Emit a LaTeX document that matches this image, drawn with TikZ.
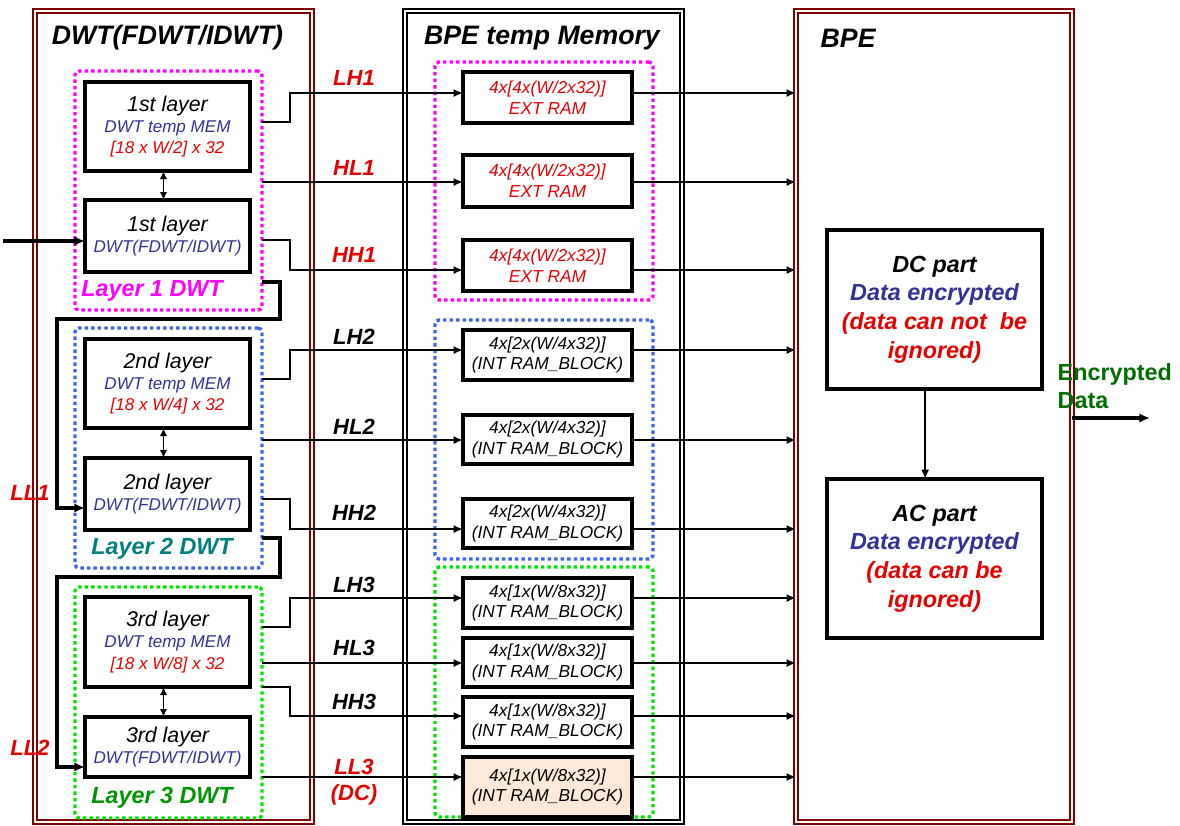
\documentclass[tikz,border=0pt]{standalone}
\usepackage{fontspec}
\setmainfont{Liberation Sans}
\usetikzlibrary{arrows.meta}
\definecolor{dred}{RGB}{128,0,0}
\definecolor{tred}{RGB}{230,0,0}
\definecolor{tblue}{RGB}{50,50,150}
\definecolor{dmag}{RGB}{255,0,255}
\definecolor{dblue}{RGB}{60,100,240}
\definecolor{dgreen}{RGB}{0,230,0}
\definecolor{tteal}{RGB}{0,128,128}
\definecolor{tgreen}{RGB}{0,150,0}
\definecolor{egreen}{RGB}{0,110,0}
\definecolor{peach}{RGB}{253,233,217}
\newcommand\ftitle{\fontsize{20}{24}\selectfont\bfseries\itshape}
\newcommand\fbig{\fontsize{16}{16}\selectfont}
\newcommand\flayer{\fontsize{17.5}{21}\selectfont\bfseries\itshape}
\newcommand\flab{\fontsize{16.5}{20}\selectfont\bfseries\itshape}
\begin{document}
\begin{tikzpicture}[x=0.75pt,y=-0.75pt,
  outerbox/.style={draw=#1, double=white, double distance=1.6pt, line width=1.1pt, inner sep=0pt, outer sep=0pt},
  dotbox/.style={draw=#1, line width=2.6pt, dash pattern=on 2.6pt off 2.3pt, rounded corners=3pt, inner sep=0pt, outer sep=0pt},
  dwtbox/.style={draw, line width=3pt, fill=white, inner sep=0pt, outer sep=0pt, align=center, minimum width=123.75pt, font=\fontsize{12.8}{16}\selectfont\itshape},
  membox/.style={draw, line width=2.8pt, fill=white, inner sep=0pt, outer sep=0pt, align=center, minimum width=126.75pt, font=\fontsize{13}{15.5}\selectfont\itshape},
  partbox/.style={draw, line width=2.8pt, fill=white, inner sep=0pt, outer sep=0pt, align=center, minimum width=161.25pt, minimum height=119.25pt, font=\fontsize{17.5}{21.5}\selectfont\bfseries\itshape},
  lab/.style={font=\flab},
  conn/.style={line width=1.3pt, -{Latex[length=7pt,width=6pt]}},
  bidir/.style={line width=1.3pt, {Latex[length=6pt,width=5.5pt]}-{Latex[length=6pt,width=5.5pt]}},
  thickarr/.style={line width=2.6pt, -{Latex[length=8pt,width=7pt]}}
]
\useasboundingbox (0,0) rectangle (1180,825);

% outer boxes
\node[outerbox=dred, minimum width=207.75pt, minimum height=608.25pt] (DWT) at (173.5,416.5) {};
\node[outerbox=black, minimum width=207.75pt, minimum height=608.25pt] (MEM) at (543.5,416.5) {};
\node[outerbox=dred, minimum width=207pt, minimum height=608.25pt] (BPE) at (934,416.5) {};

\node[font=\ftitle] (t1) at (167.5,38) {DWT(FDWT/IDWT)};
\node[font=\ftitle] (t2) at (542,38) {BPE temp Memory};
\node[font=\ftitle, anchor=west] (t3) at (816,38) {BPE};

% dotted layer boxes
\node[dotbox=dmag, minimum width=140.25pt, minimum height=179.25pt] (L1) at (168.5,190.5) {};
\node[dotbox=dblue, minimum width=140.25pt, minimum height=180pt] (L2) at (168.5,448) {};
\node[dotbox=dgreen, minimum width=140.25pt, minimum height=173.25pt] (L3) at (168.5,702.5) {};

\node[dotbox=dmag, minimum width=163.5pt, minimum height=178.5pt] (MM1) at (544,181) {};
\node[dotbox=dblue, minimum width=163.5pt, minimum height=179.25pt] (MM2) at (544,439.5) {};
\node[dotbox=dgreen, minimum width=163.5pt, minimum height=187.5pt] (MM3) at (544,692) {};

\node[font=\flayer, text=dmag] (lt1) at (152,291) {Layer 1 DWT};
\node[font=\flayer, text=tteal] (lt2) at (162,549) {Layer 2 DWT};
\node[font=\flayer, text=tgreen] (lt3) at (162,798) {Layer 3 DWT};

% DWT boxes
\node[dwtbox, minimum height=66.75pt] (M1) at (167.5,126.5) {{\fbig 1st layer}\\{\color{tblue}DWT temp MEM}\\{\color{tred}[18 x W/2] x 32}};
\node[dwtbox, minimum height=54pt] (D1) at (167.5,236) {{\fbig 1st layer}\\{\color{tblue}DWT(FDWT/IDWT)}};
\node[dwtbox, minimum height=66.75pt] (M2) at (167.5,383.5) {{\fbig 2nd layer}\\{\color{tblue}DWT temp MEM}\\{\color{tred}[18 x W/4] x 32}};
\node[dwtbox, minimum height=54pt] (D2) at (167.5,494) {{\fbig 2nd layer}\\{\color{tblue}DWT(FDWT/IDWT)}};
\node[dwtbox, minimum height=67.5pt] (M3) at (167.5,642) {{\fbig 3rd layer}\\{\color{tblue}DWT temp MEM}\\{\color{tred}[18 x W/8] x 32}};
\node[dwtbox, minimum height=45pt] (D3) at (167.5,747) {{\fbig 3rd layer}\\{\color{tblue}DWT(FDWT/IDWT)}};

\draw[bidir] ([xshift=-3pt]M1.south) -- ([xshift=-3pt]D1.north);
\draw[bidir] ([xshift=-3pt]M2.south) -- ([xshift=-3pt]D2.north);
\draw[bidir] ([xshift=-3pt]M3.south) -- ([xshift=-3pt]D3.north);

% memory boxes
\node[membox, text=tred, minimum height=38.25pt] (R1) at (547.5,97.5) {4x[4x(W/2x32)]\\EXT RAM};
\node[membox, text=tred, minimum height=39pt] (R2) at (547.5,181) {4x[4x(W/2x32)]\\EXT RAM};
\node[membox, text=tred, minimum height=38.25pt] (R3) at (547.5,265.5) {4x[4x(W/2x32)]\\EXT RAM};
\node[membox, minimum height=37.5pt] (R4) at (547.5,355) {4x[2x(W/4x32)]\\(INT RAM\_BLOCK)};
\node[membox, minimum height=36.75pt] (R5) at (547.5,439.5) {4x[2x(W/4x32)]\\(INT RAM\_BLOCK)};
\node[membox, minimum height=36.75pt] (R6) at (547.5,523.5) {4x[2x(W/4x32)]\\(INT RAM\_BLOCK)};
\node[membox, minimum height=37.5pt] (R7) at (547.5,603) {4x[1x(W/8x32)]\\(INT RAM\_BLOCK)};
\node[membox, minimum height=36.75pt] (R8) at (547.5,662.5) {4x[1x(W/8x32)]\\(INT RAM\_BLOCK)};
\node[membox, minimum height=37.5pt] (R9) at (547.5,722) {4x[1x(W/8x32)]\\(INT RAM\_BLOCK)};
\node[membox, fill=peach, minimum height=45pt] (R10) at (547.5,787) {4x[1x(W/8x32)]\\(INT RAM\_BLOCK)};

% y levels
\coordinate (a1) at (0,93);  \coordinate (a2) at (0,182); \coordinate (a3) at (0,270);
\coordinate (a4) at (0,350); \coordinate (a5) at (0,440); \coordinate (a6) at (0,529);
\coordinate (a7) at (0,598); \coordinate (a8) at (0,663); \coordinate (a9) at (0,716);
\coordinate (a10) at (0,777);
\coordinate (s1) at (0,122); \coordinate (s3) at (0,240);
\coordinate (s4) at (0,379); \coordinate (s6) at (0,499);
\coordinate (s7) at (0,627); \coordinate (s9) at (0,687);

% connectors DWT -> memory
\draw[conn] (L1.east |- s1) -- ++(28,0) |- (R1.west |- a1);
\draw[conn] (L1.east |- a2) -- (R2.west |- a2);
\draw[conn] (L1.east |- s3) -- ++(28,0) |- (R3.west |- a3);
\draw[conn] (L2.east |- s4) -- ++(28,0) |- (R4.west |- a4);
\draw[conn] (L2.east |- a5) -- (R5.west |- a5);
\draw[conn] (L2.east |- s6) -- ++(28,0) |- (R6.west |- a6);
\draw[conn] (L3.east |- s7) -- ++(28,0) |- (R7.west |- a7);
\draw[conn] (L3.east |- a8) -- (R8.west |- a8);
\draw[conn] (L3.east |- s9) -- ++(28,0) |- (R9.west |- a9);
\draw[conn] (L3.east |- a10) -- (R10.west |- a10);

% memory -> BPE
\foreach \i in {1,...,10}{
  \draw[conn] (R\i.east |- a\i) -- (BPE.west |- a\i);
}

% labels
\node[lab, text=tred] (lLH1) at (354,78) {LH1};
\node[lab, text=tred] (lHL1) at (354,168) {HL1};
\node[lab, text=tred] (lHH1) at (354,255) {HH1};
\node[lab] (lLH2) at (354,337) {LH2};
\node[lab] (lHL2) at (354,427) {HL2};
\node[lab] (lHH2) at (354,513) {HH2};
\node[lab] (lLH3) at (354,585) {LH3};
\node[lab] (lHL3) at (354,648) {HL3};
\node[lab] (lHH3) at (354,702) {HH3};
\node[lab, text=tred] (lLL3) at (354,767) {LL3};
\node[lab, text=tred] (lDC) at (354,795) {(DC)};
\node[lab, text=tred] (lLL1) at (30,493) {LL1};
\node[lab, text=tred] (lLL2) at (30,748) {LL2};

% input and LL feedback
\coordinate (inst) at (3,241);
\draw[thickarr] (inst) -- (D1.west |- inst);
\coordinate (ll1a) at (0,282); \coordinate (ll1b) at (57,319); \coordinate (ll1c) at (0,508);
\draw[thickarr] (L1.east |- ll1a) -- ++(18,0) |- (ll1b) |- (D2.west |- ll1c);
\coordinate (ll2a) at (0,538); \coordinate (ll2b) at (57,577); \coordinate (ll2c) at (0,767);
\draw[thickarr] (L2.east |- ll2a) -- ++(18,0) |- (ll2b) |- (D3.west |- ll2c);

% BPE parts
\node[partbox] (DC) at (934.5,309.5) {DC part\\{\color{tblue}Data encrypted}\\{\color{tred}(data can not \ be}\\{\color{tred}ignored)}};
\node[partbox] (AC) at (934.5,558.5) {AC part\\{\color{tblue}Data encrypted}\\{\color{tred}(data can be}\\{\color{tred}ignored)}};
\draw[conn] ([xshift=-7pt]DC.south) -- ([xshift=-7pt]AC.north);

% output
\node[font=\fontsize{17.5}{21}\selectfont\bfseries, text=egreen, anchor=west, align=left] (enc) at (1053,386) {Encrypted\\Data};
\coordinate (outend) at (1150,418);
\draw[thickarr] (BPE.east |- outend) -- (outend);
\end{tikzpicture}
\end{document}
